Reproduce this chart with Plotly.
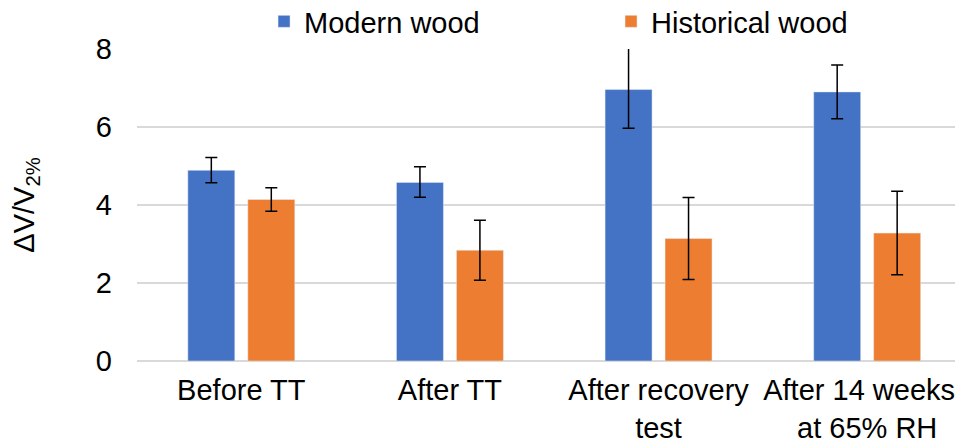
import plotly.graph_objects as go

# data
# (two trailing non-breaking spaces keep the last label clear of the right edge)
categories = ["Before TT", "After TT", "After recovery<br>test",
              "After 14 weeks&nbsp;&nbsp;<br>at 65% RH"]
modern = [4.89, 4.58, 6.96, 6.90]
modern_err_up = [0.33, 0.40, 1.10, 0.69]
modern_err_down = [0.32, 0.38, 0.99, 0.69]
historical = [4.14, 2.84, 3.14, 3.28]
historical_err = [0.30, 0.77, 1.05, 1.07]
y_ticks = [0, 2, 4, 6, 8]

FONT = "Liberation Sans, Arial, sans-serif"
BLUE = "#4472C4"
ORANGE = "#ED7D31"

fig = go.Figure()
fig.add_trace(go.Bar(
    x=categories, y=modern, name="Modern wood", marker_color=BLUE,
    error_y=dict(type="data", symmetric=False, array=modern_err_up,
                 arrayminus=modern_err_down, color="black", thickness=1.5, width=6),
))
fig.add_trace(go.Bar(
    x=categories, y=historical, name="Historical wood", marker_color=ORANGE,
    error_y=dict(type="data", array=historical_err, color="black", thickness=1.5, width=6),
))

# page body adds an 8px offset, so the figure is a bit smaller than the window
fig.update_layout(
    width=957, height=435,
    margin=dict(l=129, r=10, t=41, b=82, autoexpand=False),
    paper_bgcolor="white", plot_bgcolor="white",
    font=dict(family=FONT, size=29, color="black"),
    barmode="group", bargap=0.425, bargroupgap=0.2167,
    showlegend=True,
    legend=dict(orientation="h", x=0.1553, xanchor="left", y=1.17, yanchor="top",
                entrywidth=302, font=dict(size=29), bgcolor="rgba(0,0,0,0)"),
)
fig.update_xaxes(range=[-0.5, 3.421], showgrid=False, showline=False, ticks="",
                 automargin=False, ticklabelstandoff=9, tickfont=dict(size=29))
fig.update_yaxes(range=[0, 8], tickvals=y_ticks, showgrid=True, gridcolor="#d9d9d9",
                 gridwidth=1.5, zeroline=True, zerolinecolor="#d9d9d9", zerolinewidth=1.5,
                 showline=False, ticks="", automargin=False, ticklabelstandoff=24,
                 tickfont=dict(size=29),
                 title=dict(text="ΔV/V<sub>2%</sub>", standoff=55, font=dict(size=29)))
# top gridline is not visible in the original
fig.add_shape(type="line", xref="paper", yref="y", x0=0, x1=1, y0=8, y1=8,
              line=dict(color="white", width=3), layer="below")

fig.write_html("out.html")
